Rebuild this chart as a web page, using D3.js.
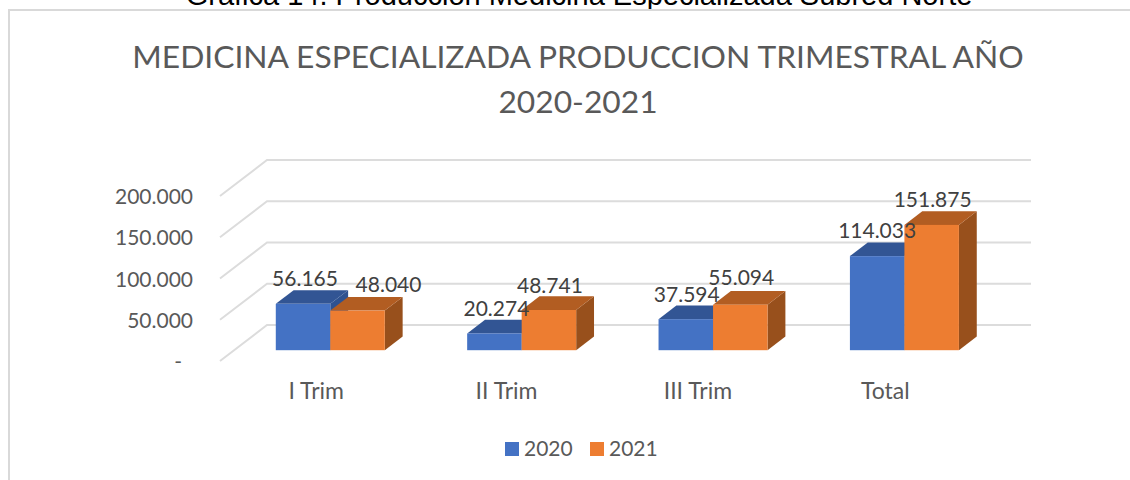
<!DOCTYPE html>
<html><head><meta charset="utf-8">
<script src="https://cdn.jsdelivr.net/npm/d3@7/dist/d3.min.js"></script>
<style>html,body{margin:0;padding:0;background:#fff}svg{display:block}text{font-family:Lato,"Noto Sans",sans-serif}</style>
</head><body><svg id="c" width="1130" height="480"></svg>
<script>
const categories = ["I Trim","II Trim","III Trim","Total"];
const years = ["2020","2021"];
const values2020 = [56165,20274,37594,114033];
const values2021 = [48040,48741,55094,151875];
const yTicks = [0,50000,100000,150000,200000];
const titleLines = ["MEDICINA ESPECIALIZADA PRODUCCION TRIMESTRAL AÑO","2020-2021"];
const caption = "Gráfica 14. Producción Medicina Especializada Subred Norte";
const labelShiftX = [[2,31],[2,1],[1,1],[0,1]];
const labelShiftY = [[-18,-19],[-17,-17],[-17,-20],[-18,-18]];
const categoryShift = [0,-1,-1,-5];

const fmt = v => v === 0 ? "-" : d3.format(",")(v).replace(/,/g,".");
const svg = d3.select("#c");

svg.append("text").attr("x",579).attr("y",5).attr("text-anchor","middle")
  .style("font-family","'Liberation Sans',Arial,sans-serif").style("font-size","29px").attr("fill","#000").text(caption);
svg.append("rect").attr("x",9).attr("y",10).attr("width",1125).attr("height",480)
  .attr("fill","#fff").attr("stroke","#d9d9d9").attr("stroke-width",2);

titleLines.forEach((t,i)=>svg.append("text").attr("x",578).attr("y",68+i*45).attr("text-anchor","middle")
  .style("font-size","31.75px").attr("fill","#595959").text(t));

const x = d3.scaleBand().domain(categories).range([220.5,986]);
const y = d3.scaleLinear().domain([0,200000]).range([361,196]);
const depth = d3.scaleLinear().domain([0,1]).range([0,47]);
const depthY = d3.scaleLinear().domain([0,1]).range([0,-36]);
const sx = d3.scaleBand().domain(years).range([0,109]);
const line = d3.line();
const gridStart = 220, gridEnd = 1031;

yTicks.forEach(t=>{
  const y0=y(t);
  svg.append("path").attr("fill","none").attr("stroke","#dcdcdc").attr("stroke-width",2)
    .attr("d",line([[gridStart,y0],[gridStart+depth(1),y0+depthY(1)],[gridEnd,y0+depthY(1)]]));
  svg.append("text").attr("x",t===0?182:193).attr("y",y0+8).attr("text-anchor","end")
    .style("font-size","21px").attr("fill","#595959").text(fmt(t));
});

const d0=.3,d1=.68;
const series=[
 {name:years[0],vals:values2020,front:"#4472c4",top:"#325594",side:"#2f5290"},
 {name:years[1],vals:values2021,front:"#ed7d31",top:"#b25d22",side:"#98501c"}
];
const groupX = c => x(c)+x.bandwidth()/2-54.5+depth(d0);
categories.forEach((c,i)=>{
  series.forEach(s=>{
    const v=s.vals[i], xl=groupX(c)+sx(s.name), xr=xl+sx.bandwidth();
    const b=y(0)+depthY(d0), h=y(0)-y(v), t=b-h;
    const ox=depth(d1)-depth(d0), oy=depthY(d1)-depthY(d0);
    const g=svg.append("g");
    g.append("path").attr("fill",s.side).attr("d",line([[xr,b],[xr+ox,b+oy],[xr+ox,t+oy],[xr,t]])+"Z");
    g.append("path").attr("fill",s.top).attr("d",line([[xl,t],[xl+ox,t+oy],[xr+ox,t+oy],[xr,t]])+"Z");
    g.append("rect").attr("x",xl).attr("y",t).attr("width",xr-xl).attr("height",h).attr("fill",s.front);
  });
});
categories.forEach((c,i)=>{
  series.forEach((s,k)=>{
    const v=s.vals[i], xl=groupX(c)+sx(s.name);
    const t=y(0)+depthY(d0)-(y(0)-y(v));
    svg.append("text").attr("x",xl+sx.bandwidth()/2+labelShiftX[i][k]).attr("y",t+labelShiftY[i][k])
      .attr("text-anchor","middle").style("font-size","21px").attr("fill","#404040").text(fmt(v));
  });
  svg.append("text").attr("x",x(c)+x.bandwidth()/2+categoryShift[i]).attr("y",399).attr("text-anchor","middle")
    .style("font-size","23px").attr("fill","#595959").text(c);
});

const lx=d3.scaleOrdinal().domain(years).range([505,590]);
series.forEach(s=>{
  svg.append("rect").attr("x",lx(s.name)).attr("y",442).attr("width",14).attr("height",14).attr("fill",s.front);
  svg.append("text").attr("x",lx(s.name)+19).attr("y",456).style("font-size","21px").attr("fill","#595959").text(s.name);
});
</script></body></html>
